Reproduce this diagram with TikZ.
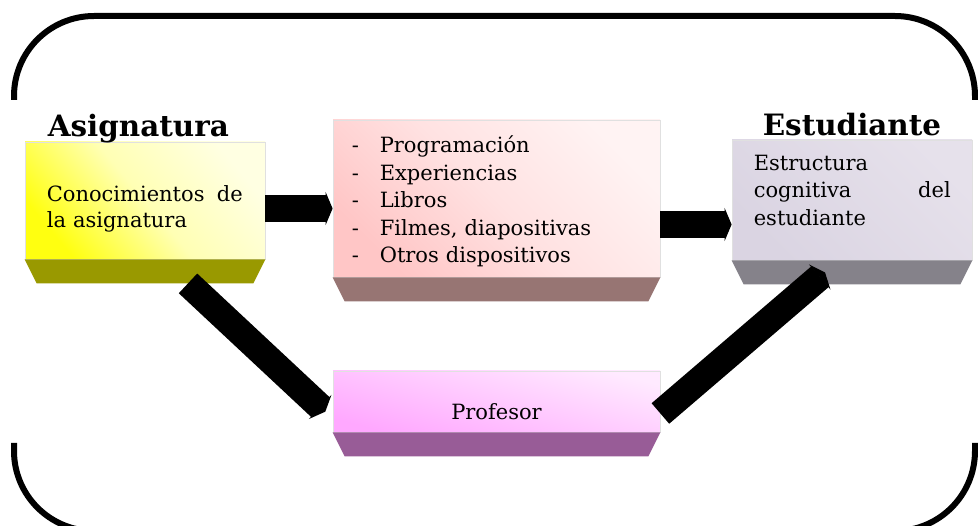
\documentclass[tikz,border=0pt]{standalone}
\usepackage{fontspec}
\setmainfont{DejaVu Serif}
\usetikzlibrary{arrows.meta}

\definecolor{asiglo}{HTML}{FFFF10}
\definecolor{asigmid}{HTML}{FFFFB4}
\definecolor{asighi}{HTML}{FFFFE2}
\definecolor{asigbev}{HTML}{999900}
\definecolor{medlo}{HTML}{FFC6C6}
\definecolor{medmid}{HTML}{FFE2E2}
\definecolor{medhi}{HTML}{FFF3F3}
\definecolor{medbev}{HTML}{977573}
\definecolor{estlo}{HTML}{DAD4E2}
\definecolor{esthi}{HTML}{E6E1EB}
\definecolor{estbev}{HTML}{85828A}
\definecolor{proflo}{HTML}{FFA8FF}
\definecolor{profhi}{HTML}{FFEAFF}
\definecolor{profbev}{HTML}{985C97}

% bottom bevel under a box
\newcommand\bevel[2]{\fill[#2] (#1.south west) -- (#1.south east)
  -- ([xshift=-12pt,yshift=-24pt]#1.south east) -- ([xshift=12pt,yshift=-24pt]#1.south west) -- cycle;}
\newcommand\guion[1]{\makebox[28pt][l]{-}#1}

\begin{document}
\begin{tikzpicture}[x=1pt,y=-1pt,
  face/.style={rectangle, draw=black!12, line width=0.8pt, inner sep=0pt, font=\fontsize{21}{27.5}\selectfont},
  txt/.style={inner sep=0pt, align=left, anchor=north west, font=\fontsize{21}{27.5}\selectfont},
  title/.style={inner sep=0pt, anchor=base west, font=\fontsize{29.4}{31}\selectfont\bfseries},
  fat/.style={line width=27pt, -{Triangle[length=7pt,width=33pt]}},
  frame/.style={line width=6pt}]
\useasboundingbox (0,0) rectangle (978,526);

\draw[frame] (14,100) -- (14,96) arc[start angle=180,end angle=90,radius=80pt] -- (895,16)
  arc[start angle=90,end angle=0,radius=80pt] -- (975,100);
\draw[frame] (14,443) -- (14,451) arc[start angle=180,end angle=270,radius=80pt] -- (895,531)
  arc[start angle=270,end angle=360,radius=80pt] -- (975,443);

\node[face, minimum width=240pt, minimum height=117pt, bottom color=asiglo, top color=asighi, middle color=asigmid,
  shading angle=-50] (asig) at (145,200.5) {};
\node[face, minimum width=327pt, minimum height=157pt, bottom color=medlo, top color=medhi, middle color=medmid,
  shading angle=-45] (med) at (496.5,198.5) {};
\node[face, minimum width=240pt, minimum height=120pt, bottom color=estlo, top color=esthi, shading angle=-45] (est) at (852,200) {};
\node[face, minimum width=327pt, minimum height=61pt, bottom color=proflo, top color=profhi, shading angle=-15] (prof)
  at (496.5,401.5) {\raisebox{-10pt}[\height][\depth]{Profesor}};

\node[txt, text width=196pt, font=\fontsize{21}{26}\selectfont] (asigtxt) at ([xshift=22pt,yshift=-44pt]asig.north west)
  {Conocimientos\hfill de\\la asignatura};
\node[txt, text width=289pt] (medtxt) at ([xshift=19pt,yshift=-16pt]med.north west)
  {\guion{Programación}\\\guion{Experiencias}\\\guion{Libros}\\\guion{Filmes, diapositivas}\\\guion{Otros dispositivos}};
\node[txt, text width=197pt] (esttxt) at ([xshift=22pt,yshift=-15pt]est.north west)
  {Estructura\\cognitiva\hfill del\\estudiante};

\bevel{asig}{asigbev}
\bevel{med}{medbev}
\bevel{est}{estbev}
\bevel{prof}{profbev}

\node[title] (asigtit) at ([xshift=23pt,yshift=5pt]asig.north west) {Asignatura};
\node[title] (esttit) at ([xshift=31pt,yshift=4pt]est.north west) {Estudiante};

\coordinate (a3) at ([xshift=43pt,yshift=-24pt]asig.south);
\coordinate (a4) at ([xshift=-27pt,yshift=-12pt]est.south);
\draw[fat] ([yshift=-8pt]asig.east) -- ([yshift=-8pt]asig.east -| med.west);
\draw[fat] ([yshift=-26pt]med.east) -- ([yshift=-26pt]med.east -| est.west);
\draw[fat, shorten >=10pt] (a3) -- ([yshift=-17pt]prof.west);
\draw[fat] ([yshift=-12pt]prof.east) -- (a4);
\end{tikzpicture}
\end{document}
